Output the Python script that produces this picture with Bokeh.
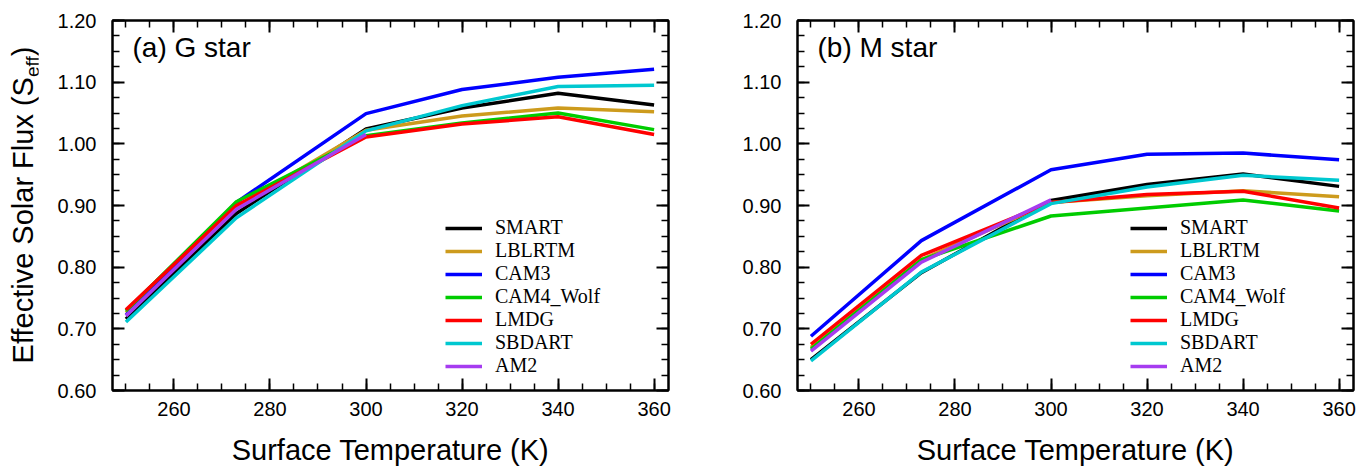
from bokeh.plotting import figure
from bokeh.layouts import row
from bokeh.models import (LinearAxis, SingleIntervalTicker, FixedTicker, NumeralTickFormatter,
                          Legend, LegendItem, Label, Div)
from bokeh.embed import file_html
from bokeh.resources import INLINE

# ---------------- data ----------------
TEMP = [250, 273, 300, 320, 340, 360]
TEMP_AM2 = [250, 273, 300]
MODELS = ["SMART", "LBLRTM", "CAM3", "CAM4_Wolf", "LMDG", "SBDART", "AM2"]
COLORS = ["#000000", "#CD9B1D", "#0000FF", "#00CC00", "#FF0000", "#00C8D0", "#A63CF0"]

G_SMART = [0.716, 0.887, 1.024, 1.058, 1.082, 1.063]
G_LBLRTM = [0.726, 0.898, 1.022, 1.045, 1.058, 1.052]
G_CAM3 = [0.722, 0.905, 1.049, 1.088, 1.108, 1.121]
G_CAM4 = [0.729, 0.906, 1.013, 1.034, 1.050, 1.023]
G_LMDG = [0.731, 0.900, 1.011, 1.032, 1.044, 1.015]
G_SBDART = [0.711, 0.880, 1.021, 1.062, 1.093, 1.095]
G_AM2 = [0.721, 0.894, 1.015]

M_SMART = [0.650, 0.791, 0.908, 0.934, 0.951, 0.931]
M_LBLRTM = [0.670, 0.812, 0.905, 0.916, 0.924, 0.914]
M_CAM3 = [0.688, 0.843, 0.958, 0.983, 0.985, 0.974]
M_CAM4 = [0.667, 0.812, 0.883, 0.896, 0.909, 0.891]
M_LMDG = [0.675, 0.819, 0.905, 0.918, 0.923, 0.896]
M_SBDART = [0.648, 0.792, 0.903, 0.930, 0.949, 0.941]
M_AM2 = [0.664, 0.808, 0.909]

G_SERIES = [G_SMART, G_LBLRTM, G_CAM3, G_CAM4, G_LMDG, G_SBDART, G_AM2]
M_SERIES = [M_SMART, M_LBLRTM, M_CAM3, M_CAM4, M_LMDG, M_SBDART, M_AM2]

Y_MAJOR = [0.6, 0.7, 0.8, 0.9, 1.0, 1.1, 1.2]
X_RANGE = (247.2, 363.0)
Y_RANGE = (0.6, 1.2)
SANS = "Liberation Sans"
SERIF = "Liberation Serif"

Y_MINOR = [round(Y_MAJOR[0] + 0.025 * i, 3) for i in range(25)]


def style_axis(ax, labels=True):
    ax.axis_line_width = 2
    ax.axis_line_color = "black"
    ax.major_tick_in = 12
    ax.major_tick_out = 0
    ax.minor_tick_in = 7
    ax.minor_tick_out = 0
    ax.major_tick_line_width = 2
    ax.minor_tick_line_width = 1.5
    if labels:
        ax.major_label_text_font = SANS
        ax.major_label_text_font_size = "20px"
        ax.major_label_text_color = "black"
    else:
        ax.major_label_text_font_size = "0px"
        ax.major_label_standoff = 0


def make_panel(series, title, left_border, right_border):
    p = figure(frame_width=556, frame_height=370, x_range=X_RANGE, y_range=Y_RANGE,
               output_backend="svg", toolbar_location=None,
               min_border_left=left_border, min_border_right=right_border,
               min_border_top=20, min_border_bottom=76,
               background_fill_color="white", border_fill_color="white")
    p.xgrid.visible = False
    p.ygrid.visible = False
    p.outline_line_color = "black"
    p.outline_line_width = 2

    p.xaxis.ticker = SingleIntervalTicker(interval=20, num_minor_ticks=4)
    p.yaxis.ticker = FixedTicker(ticks=Y_MAJOR, minor_ticks=Y_MINOR)
    p.yaxis.formatter = NumeralTickFormatter(format="0.00")
    style_axis(p.xaxis[0])
    style_axis(p.yaxis[0])
    p.xaxis.major_label_standoff = 11
    p.yaxis.major_label_standoff = 16
    p.xaxis.axis_label = "Surface Temperature (K)"
    p.xaxis.axis_label_text_font = SANS
    p.xaxis.axis_label_text_font_size = "29px"
    p.xaxis.axis_label_text_font_style = "normal"
    p.xaxis.axis_label_text_color = "black"
    p.xaxis.axis_label_standoff = 15

    top = LinearAxis(ticker=SingleIntervalTicker(interval=20, num_minor_ticks=4))
    style_axis(top, labels=False)
    p.add_layout(top, "above")
    right = LinearAxis(ticker=FixedTicker(ticks=Y_MAJOR, minor_ticks=Y_MINOR))
    style_axis(right, labels=False)
    p.add_layout(right, "right")

    items = []
    for name, color, vals in zip(MODELS, COLORS, series):
        xs = TEMP_AM2 if name == "AM2" else TEMP
        r = p.line(xs, vals, line_color=color, line_width=3.5)
        items.append(LegendItem(label=name, renderers=[r]))

    leg = Legend(items=items, location=(333, 13), padding=0, margin=0,
                 border_line_color=None, background_fill_alpha=0,
                 glyph_width=37, glyph_height=20, label_height=20,
                 spacing=0, label_standoff=13,
                 label_text_font=SERIF, label_text_font_size="20px",
                 label_text_color="black")
    p.add_layout(leg)

    p.add_layout(Label(x=20, y=328, x_units="screen", y_units="screen", text=title,
                       text_font=SANS, text_font_size="28px", text_color="black"))
    return p


DIV_W = 38
ytitle_html = (
    '<div style="position:relative;width:38px;height:466px;">'
    '<div style="position:absolute;left:9px;top:390px;width:370px;'
    'transform:rotate(-90deg);transform-origin:0 0;text-align:center;white-space:nowrap;'
    "font-family:'Liberation Sans',sans-serif;font-size:29px;line-height:29px;color:#000;\">"
    'Effective Solar Flux (S<span style="font-size:19px;position:relative;top:6px;">eff</span>)'
    '</div></div>'
)
ydiv = Div(text=ytitle_html, width=DIV_W, height=466, margin=0)

p1 = make_panel(G_SERIES, "(a) G star", 112 - DIV_W, 10)
p2 = make_panel(M_SERIES, "(b) M star", 119, 8)

layout = row(ydiv, p1, p2)
open("out.html", "w").write(file_html(layout, INLINE))
